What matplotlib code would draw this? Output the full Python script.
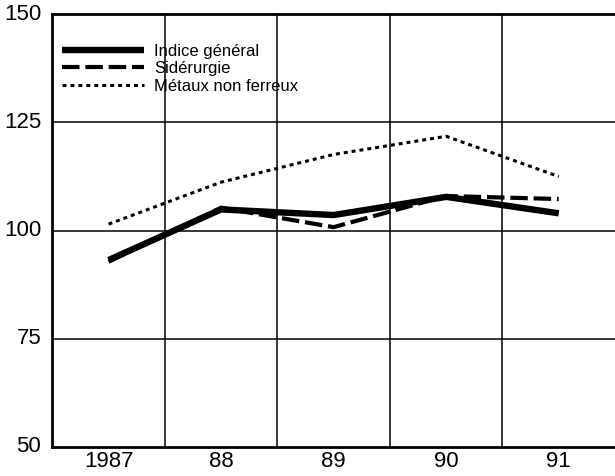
import matplotlib.pyplot as plt

years = ['1987', '88', '89', '90', '91']
indice_general = [93.2, 104.9, 103.6, 107.8, 104.0]
siderurgie = [92.8, 105.3, 100.8, 108.0, 107.3]
metaux_nf = [101.5, 111.2, 117.6, 121.8, 112.5]

plt.rcParams['font.family'] = ['Liberation Sans', 'DejaVu Sans']

fig = plt.figure(figsize=(6.15, 4.76), dpi=100)
ax = fig.add_axes([0.085, 0.061, 0.915, 0.909])

x = range(len(years))
ax.plot(x, indice_general, color='black', lw=4.6, solid_capstyle='butt',
        label='Indice général')
ax.plot(x, siderurgie, color='black', lw=3.0, dashes=(4.2, 1.4),
        label='Sidérurgie')
ax.plot(x, metaux_nf, color='black', lw=2.2, dashes=(1.3, 1.3),
        label='Métaux non ferreux')

ax.set_xlim(-0.5, 4.5)
ax.set_ylim(50, 150)
ax.set_yticks([50, 75, 100, 125, 150])
ax.set_xticks(list(x))
ax.set_xticklabels(years)

# grid lines between the years
for g in [0.5, 1.5, 2.5, 3.5]:
    ax.axvline(g, color='black', lw=1.1, zorder=0)
for g in [75, 100, 125]:
    ax.axhline(g, color='black', lw=1.1, zorder=0)

for side in ['left', 'bottom', 'top']:
    ax.spines[side].set_linewidth(2.0)
ax.spines['right'].set_visible(False)

ax.tick_params(length=0, labelsize=16, pad=3)
ax.tick_params(axis='y', pad=8)
for lab in ax.get_yticklabels():
    lab.set_verticalalignment('center')

leg = ax.legend(loc='upper left', bbox_to_anchor=(0.0, 0.955), frameon=False,
                fontsize=12, handlelength=4.9, handletextpad=0.6,
                labelspacing=0.15, borderaxespad=0.2)

fig.savefig('out.png', dpi=100)
